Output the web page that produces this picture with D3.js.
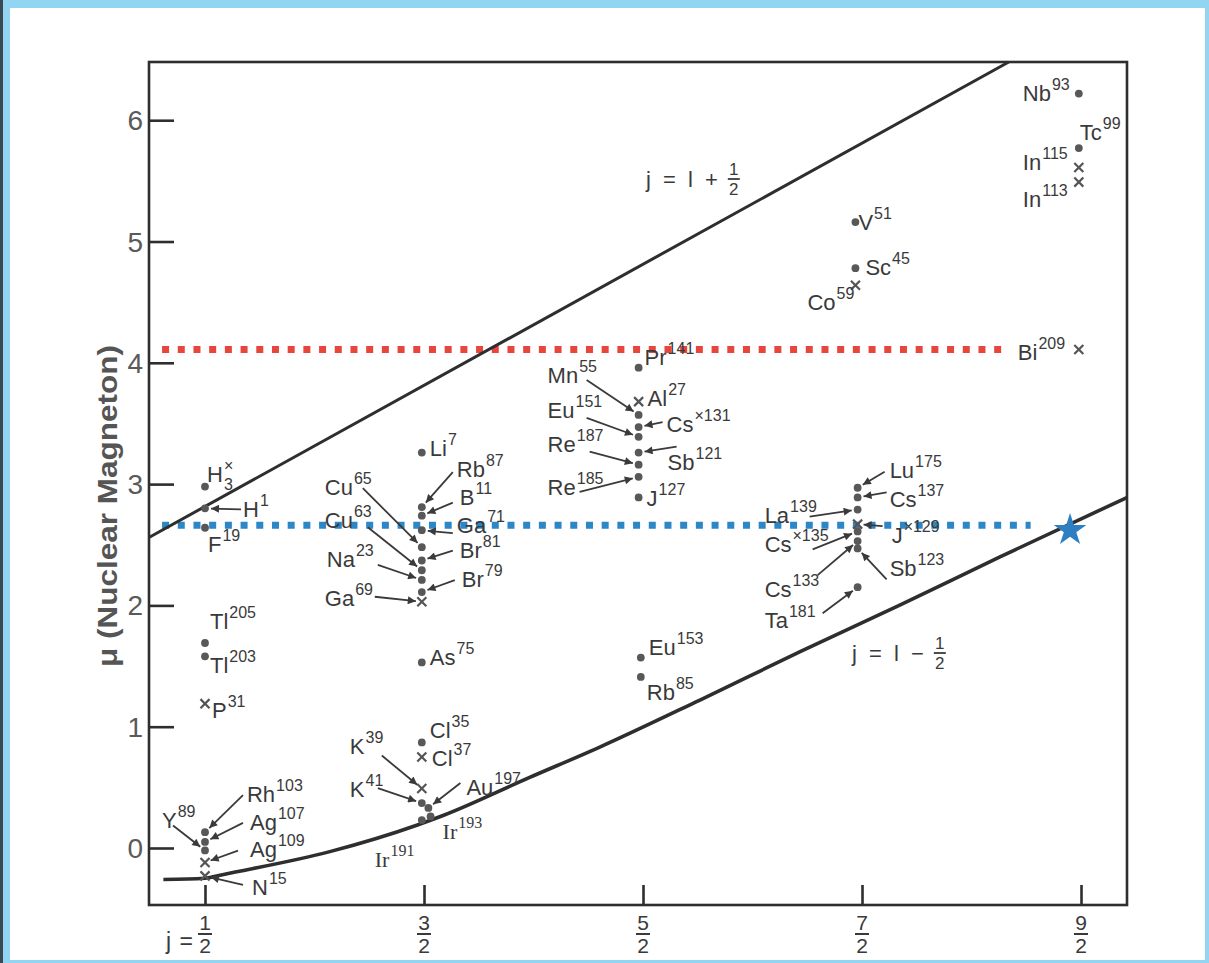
<!DOCTYPE html>
<html>
<head>
<meta charset="utf-8">
<script src="https://cdn.jsdelivr.net/npm/d3@7"></script>
<style>
    html, body {margin: 0; padding: 0; background: #92d5f3;}
    svg {display: block;}
    .nuc {font-family: "Liberation Sans", Arial, sans-serif; font-size: 22px; fill: #3a3a3a;}
    .sup {font-family: "Liberation Sans", Arial, sans-serif; font-size: 16px; fill: #3a3a3a;}
    .tick-label {font-family: "Liberation Sans", Arial, sans-serif; font-size: 28px; fill: #5a5a5a;}
    .frac {font-family: "Liberation Sans", Arial, sans-serif; font-size: 21px; fill: #3a3a3a; text-anchor: middle;}
</style>
</head>
<body>
<svg id="chart" width="1209" height="963"></svg>
<script>
// axis ticks
const xTicks = [0.5, 1.5, 2.5, 3.5, 4.5];
const xTickNum = ["1", "3", "5", "7", "9"];
const xTickDen = ["2", "2", "2", "2", "2"];
const yTicks = [0, 1, 2, 3, 4, 5, 6];

// id, symbol, superscript, j, mu, marker (o = dot, x = cross)
const nuclei = [
    ["H3", "H", "×", 0.5, 2.98, "o"],
    ["H1", "H", "1", 0.5, 2.80, "o"],
    ["F19", "F", "19", 0.5, 2.64, "o"],
    ["Tl205", "Tl", "205", 0.5, 1.69, "o"],
    ["Tl203", "Tl", "203", 0.5, 1.58, "o"],
    ["P31", "P", "31", 0.5, 1.19, "x"],
    ["Rh103", "Rh", "103", 0.5, 0.13, "o"],
    ["Ag107", "Ag", "107", 0.5, 0.05, "o"],
    ["Y89", "Y", "89", 0.5, -0.02, "o"],
    ["Ag109", "Ag", "109", 0.5, -0.12, "x"],
    ["N15", "N", "15", 0.5, -0.23, "x"],

    ["Li7", "Li", "7", 1.49, 3.26, "o"],
    ["Rb87", "Rb", "87", 1.49, 2.81, "o"],
    ["B11", "B", "11", 1.49, 2.74, "o"],
    ["Ga71", "Ga", "71", 1.49, 2.62, "o"],
    ["Cu65", "Cu", "65", 1.49, 2.48, "o"],
    ["Br81", "Br", "81", 1.49, 2.37, "o"],
    ["Cu63", "Cu", "63", 1.49, 2.29, "o"],
    ["Na23", "Na", "23", 1.49, 2.21, "o"],
    ["Br79", "Br", "79", 1.49, 2.11, "o"],
    ["Ga69", "Ga", "69", 1.49, 2.03, "x"],
    ["As75", "As", "75", 1.49, 1.53, "o"],
    ["Cl35", "Cl", "35", 1.49, 0.87, "o"],
    ["Cl37", "Cl", "37", 1.49, 0.75, "x"],
    ["K39", "K", "39", 1.49, 0.49, "x"],
    ["K41", "K", "41", 1.49, 0.37, "o"],
    ["Au197", "Au", "197", 1.52, 0.33, "o"],
    ["Ir193", "Ir", "193", 1.53, 0.26, "o"],
    ["Ir191", "Ir", "191", 1.49, 0.23, "o"],

    ["Pr141", "Pr", "141", 2.48, 3.96, "o"],
    ["Al27", "Al", "27", 2.48, 3.68, "x"],
    ["Mn55", "Mn", "55", 2.48, 3.57, "o"],
    ["Cs131", "Cs", "×131", 2.48, 3.47, "o"],
    ["Eu151", "Eu", "151", 2.48, 3.39, "o"],
    ["Sb121", "Sb", "121", 2.48, 3.26, "o"],
    ["Re187", "Re", "187", 2.48, 3.16, "o"],
    ["Re185", "Re", "185", 2.48, 3.06, "o"],
    ["J127", "J", "127", 2.48, 2.89, "o"],
    ["Eu153", "Eu", "153", 2.49, 1.57, "o"],
    ["Rb85", "Rb", "85", 2.49, 1.41, "o"],

    ["Lu175", "Lu", "175", 3.48, 2.97, "o"],
    ["Cs137", "Cs", "137", 3.48, 2.89, "o"],
    ["La139", "La", "139", 3.48, 2.79, "o"],
    ["J129", "J", "×129", 3.48, 2.67, "x"],
    ["Cs135", "Cs", "×135", 3.48, 2.61, "o"],
    ["Cs133", "Cs", "133", 3.48, 2.53, "o"],
    ["Sb123", "Sb", "123", 3.48, 2.47, "o"],
    ["Ta181", "Ta", "181", 3.48, 2.15, "o"],
    ["V51", "V", "51", 3.47, 5.16, "o"],
    ["Sc45", "Sc", "45", 3.47, 4.78, "o"],
    ["Co59", "Co", "59", 3.47, 4.64, "x"],

    ["Nb93", "Nb", "93", 4.49, 6.22, "o"],
    ["Tc99", "Tc", "99", 4.49, 5.77, "o"],
    ["In115", "In", "115", 4.49, 5.61, "x"],
    ["In113", "In", "113", 4.49, 5.49, "x"],
    ["Bi209", "Bi", "209", 4.49, 4.11, "x"]
];
const subscripts = {H3: "3"};

// Schmidt lines
const upperJ = [0.244, 4.17];
const upperMu = [2.56, 6.48];
const lowerJ = [0.31, 0.5, 0.58, 1.07, 1.47, 1.59, 1.98, 2.30, 2.76, 3.22, 3.67, 4.13, 4.71];
const lowerMu = [-0.26, -0.25, -0.22, -0.03, 0.19, 0.27, 0.58, 0.83, 1.22, 1.62, 2.00, 2.40, 2.89];

// dotted reference levels and star
const redLevel = {mu: 4.11, from: 0.304, to: 4.14};
const blueLevel = {mu: 2.66, from: 0.304, to: 4.27};
const starPoint = {j: 4.45, mu: 2.62};

// label layout: [text dx, text dy, arrow start dx, arrow start dy] relative to the point, px
const labelLayout = {
    H3: [2, -5], H1: [38, 9, 36, 1], F19: [3, 24], Tl205: [5, -14], Tl203: [5, 17], P31: [7, 14],
    Rh103: [42, -30, 38, -37], Ag107: [45, -12, 38, -19], Ag109: [45, -6, 33, -12],
    Y89: [-43, -22, -32, -25], N15: [47, 19, 38, 9],
    Li7: [8, 3], Rb87: [35, -30, 31, -35], B11: [38, -11, 31, -13], Ga71: [35, 3, 31, 3],
    Br81: [38, -3, 31, -10], Br79: [40, -5, 33, -12], Cu65: [-97, -52, -59, -59],
    Cu63: [-97, -42, -54, -43], Na23: [-95, -13, -44, -15], Ga69: [-97, 4, -47, -5],
    As75: [8, 3], Cl35: [8, -4], Cl37: [10, 9], K39: [-72, -35, -40, -33], K41: [-72, -6, -44, -15],
    Au197: [38, -13, 32, -25], Ir193: [12, 23], Ir191: [-47, 47],
    Pr141: [6, -3], Al27: [9, 4], Mn55: [-91, -32, -52, -35], Cs131: [28, 5, 24, -5],
    Eu151: [-91, -19, -52, -19], Sb121: [29, 17, 38, -6], Re187: [-91, -13, -49, -13],
    Re185: [-91, 18, -59, 15], J127: [8, 9], Eu153: [8, -3], Rb85: [6, 23],
    Lu175: [32, -10, 27, -16], Cs137: [32, 10, 29, -5], La139: [-93, 13, -48, 7],
    J129: [34, 19, 25, 2], Cs135: [-93, 21, -45, 18], Cs133: [-93, 56, -40, 34],
    Sb123: [32, 28, 29, 31], Ta181: [-93, 41, -35, 26],
    V51: [3, 8], Sc45: [10, 7], Co59: [-48, 25],
    Nb93: [-56, 7], Tc99: [1, -8], In115: [-56, 2], In113: [-56, 25], Bi209: [-61, 11]
};
// labels typeset in a serif face in the original
const serifLabels = ["Ir191", "Ir193"];

const svg = d3.select("#chart");
const ink = "#2e2e2e";

// paper
svg.append("rect").attr("x", 0).attr("y", 0).attr("width", 3).attr("height", 963).attr("fill", "#3a4a55");
svg.append("rect").attr("x", 10).attr("y", 8).attr("width", 1195).attr("height", 952).attr("fill", "#fff");

const plot = {left: 149, right: 1127, top: 62, bottom: 905};
const x = d3.scaleLinear().domain([0.2443, 4.71]).range([plot.left, plot.right]);
const y = d3.scaleLinear().domain([-0.47, 6.48]).range([plot.bottom, plot.top]);

const defs = svg.append("defs");
defs.append("marker").attr("id", "ah").attr("viewBox", "0 0 10 10")
    .attr("refX", 10).attr("refY", 5).attr("markerWidth", 12).attr("markerHeight", 8)
    .attr("markerUnits", "userSpaceOnUse").attr("orient", "auto")
    .append("path").attr("d", "M0,0L10,5L0,10z").attr("fill", "#3a3a3a");

// dotted levels (behind everything)
[[redLevel, "#e8453c"], [blueLevel, "#2d86c6"]].forEach(([lv, col]) => {
    svg.append("line")
        .attr("x1", x(lv.from)).attr("x2", x(lv.to))
        .attr("y1", y(lv.mu)).attr("y2", y(lv.mu))
        .attr("stroke", col).attr("stroke-width", 7).attr("stroke-dasharray", "7 8.7");
});

// frame
svg.append("rect")
    .attr("x", plot.left).attr("y", plot.top)
    .attr("width", plot.right - plot.left).attr("height", plot.bottom - plot.top)
    .attr("fill", "none").attr("stroke", ink).attr("stroke-width", 2.6);

// y axis ticks (inward) and labels
const yAxis = svg.append("g").attr("transform", "translate(" + plot.left + ",0)")
    .call(d3.axisRight(y).tickValues(yTicks).tickSize(25).tickFormat(""));
yAxis.select(".domain").remove();
yAxis.selectAll(".tick line").attr("stroke", ink).attr("stroke-width", 2.6);
svg.selectAll(".ylab").data(yTicks).enter().append("text")
    .attr("class", "tick-label")
    .attr("x", plot.left - 6).attr("y", d => y(d) + 10)
    .attr("text-anchor", "end").text(d => d);

// x axis ticks (upward) and fraction labels
const xAxis = svg.append("g").attr("transform", "translate(0," + plot.bottom + ")")
    .call(d3.axisTop(x).tickValues(xTicks).tickSize(20).tickFormat(""));
xAxis.select(".domain").remove();
xAxis.selectAll(".tick line").attr("stroke", ink).attr("stroke-width", 2.6);
xTicks.forEach((t, i) => {
    const cx = x(t);
    svg.append("text").attr("class", "frac").attr("x", cx).attr("y", 930).text(xTickNum[i]);
    svg.append("line").attr("x1", cx - 7).attr("x2", cx + 7).attr("y1", 934).attr("y2", 934)
        .attr("stroke", "#3a3a3a").attr("stroke-width", 2);
    svg.append("text").attr("class", "frac").attr("x", cx).attr("y", 953).text(xTickDen[i]);
});
svg.append("text").attr("class", "nuc").attr("x", x(xTicks[0]) - 12).attr("y", 949)
    .attr("text-anchor", "end").style("font-size", "23px").style("word-spacing", "2px").text("j =");

// y title
svg.append("text")
    .attr("transform", "translate(117,506) rotate(-90)")
    .attr("text-anchor", "middle")
    .attr("textLength", 322).attr("lengthAdjust", "spacingAndGlyphs")
    .style("font-family", "'Liberation Sans', Arial, sans-serif")
    .style("font-size", "27px").style("font-weight", "bold").style("fill", "#555")
    .text("μ (Nuclear Magneton)");

// Schmidt lines
const line = d3.line().x(d => x(d[0])).y(d => y(d[1]));
svg.append("path")
    .datum(upperJ.map((j, i) => [j, upperMu[i]]))
    .attr("d", line).attr("fill", "none").attr("stroke", ink).attr("stroke-width", 3);
svg.append("path")
    .datum(lowerJ.map((j, i) => [j, lowerMu[i]]))
    .attr("d", line.curve(d3.curveMonotoneX)).attr("fill", "none").attr("stroke", ink).attr("stroke-width", 3.6);

// line captions
function caption(x0, yb, sign) {
    const g = svg.append("g");
    const t = g.append("text").attr("class", "nuc").attr("x", x0).attr("y", yb)
        .style("word-spacing", "6px").text("j = l " + sign);
    const fx = x0 + t.node().getComputedTextLength() + 16;
    g.append("text").attr("class", "frac").style("font-size", "17px").attr("x", fx).attr("y", yb - 12).text("1");
    g.append("line").attr("x1", fx - 6).attr("x2", fx + 6).attr("y1", yb - 8).attr("y2", yb - 8)
        .attr("stroke", "#3a3a3a").attr("stroke-width", 1.8);
    g.append("text").attr("class", "frac").style("font-size", "17px").attr("x", fx).attr("y", yb + 8).text("2");
}
caption(646, 187, "+");
caption(852, 661, "−");

// markers
const pts = svg.append("g");
nuclei.forEach(([id, name, sup, j, mu, mk]) => {
    if (mk === "o") {
        pts.append("circle").attr("cx", x(j)).attr("cy", y(mu)).attr("r", 3.9).attr("fill", "#585858");
    } else {
        pts.append("path").attr("d", d3.symbol(d3.symbolX, 55)())
            .attr("transform", "translate(" + x(j) + "," + y(mu) + ")")
            .attr("stroke", "#555").attr("stroke-width", 2.2).attr("fill", "none");
    }
});

// labels and arrows
const lab = svg.append("g");
nuclei.forEach(([id, name, sup, j, mu]) => {
    const L = labelLayout[id];
    if (!L) return;
    const px = x(j), py = y(mu);
    const tx = px + L[0], ty = py + L[1];
    const serif = serifLabels.includes(id);
    const t = lab.append("text").attr("class", "nuc").attr("x", tx).attr("y", ty).text(name);
    const s = lab.append("text").attr("class", "sup").attr("y", ty - 11).text(sup);
    if (serif) {
        t.style("font-family", "'Liberation Serif', serif");
        s.style("font-family", "'Liberation Serif', serif");
    }
    const w = t.node().getComputedTextLength();
    s.attr("x", tx + w + 1);
    if (subscripts[id]) {
        lab.append("text").attr("class", "sup").attr("x", tx + w + 1).attr("y", ty + 8).text(subscripts[id]);
    }
    if (L.length > 2) {
        const sx = px + L[2], sy = py + L[3];
        const dx = px - sx, dy = py - sy, len = Math.hypot(dx, dy);
        const gap = 6;
        lab.append("line")
            .attr("x1", sx).attr("y1", sy)
            .attr("x2", px - dx / len * gap).attr("y2", py - dy / len * gap)
            .attr("stroke", "#3a3a3a").attr("stroke-width", 1.8)
            .attr("marker-end", "url(#ah)");
    }
});

// star
svg.append("path")
    .attr("d", d3.symbol(d3.symbolStar, 330)())
    .attr("transform", "translate(" + x(starPoint.j) + "," + y(starPoint.mu) + ")")
    .attr("fill", "#2d7fc1");
</script>
</body>
</html>
